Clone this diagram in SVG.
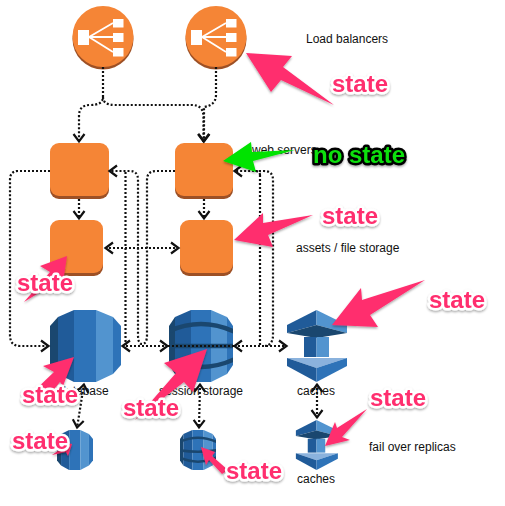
<svg xmlns="http://www.w3.org/2000/svg" xmlns:xlink="http://www.w3.org/1999/xlink" width="505" height="506" viewBox="0 0 505 506">
<style>
.c{fill:none;stroke:#111;stroke-width:2.2;stroke-dasharray:2 2}
.h{marker-end:url(#a)}
.b{marker-start:url(#as);marker-end:url(#a)}
.o{fill:#f58536}
.od{fill:#9d5025}
.w{fill:#fff}
.wl{stroke:#fff;stroke-width:1.8;fill:none}
.l{font:12px "Liberation Sans",Arial,sans-serif;fill:#111}
.s{font:bold 24px "Liberation Sans",Arial,sans-serif;fill:#ff2d6e;stroke:#fff;stroke-width:5;stroke-linejoin:round;paint-order:stroke;filter:url(#sh)}
.n{font:bold 24px "Liberation Sans",Arial,sans-serif;fill:#0be00b;stroke:#000;stroke-width:5;stroke-linejoin:round;paint-order:stroke;filter:url(#sh)}
.p{fill:#ff2d6e;filter:url(#sh)}
.g{fill:#05e305;filter:url(#sh)}
.b1{fill:#1a476f}.b2{fill:#205b99}.b3{fill:#2e73b8}.b4{fill:#5294cf}.b5{fill:#8ab2dd}
.band{fill:none;stroke:#1a476f;stroke-width:4.500}
</style>
<defs>
<filter id="sh" x="-20%" y="-20%" width="140%" height="150%"><feDropShadow dx="0" dy="1.500" stdDeviation="1.200" flood-color="#000" flood-opacity=".35"/></filter>
<marker id="a" markerUnits="userSpaceOnUse" markerWidth="14" markerHeight="16" refX="11" refY="8" orient="auto"><path d="M3 2.500 L10.500 8 L3 13.500" fill="none" stroke="#111" stroke-width="2.200"/></marker>
<marker id="as" markerUnits="userSpaceOnUse" markerWidth="14" markerHeight="16" refX="3" refY="8" orient="auto"><path d="M11 2.500 L3.500 8 L11 13.500" fill="none" stroke="#111" stroke-width="2.200"/></marker>
<clipPath id="rc"><path d="M50 326 L58 317 L74 310 L96 310 L113 317 L121 326 V365 L113 374 L96 382 L74 382 L58 374 L50 365Z"/></clipPath>
<clipPath id="dc"><path d="M169 326 L175 317 L191 310 L211 310 L227 317 L233 326 V365 L227 374 L211 382 L191 382 L175 374 L169 365Z"/></clipPath>
<g id="lbIcon">
<circle cx="0" cy="30" r="30.500" class="od"/>
<circle cx="0" cy="27.500" r="30.500" class="o"/>
<rect x="-25" y="21" width="11" height="15" class="w"/>
<rect x="10" y="10" width="10.500" height="8.500" class="w"/>
<rect x="10" y="24" width="10.500" height="9" class="w"/>
<rect x="10" y="39" width="10.500" height="8.500" class="w"/>
<path d="M-14 28 L10 14 M-14 28 H10 M-14 28 L10 43" class="wl"/>
</g>
<g id="cacheIcon">
<path d="M0 0 L-29.500 15 V23 L0 15Z" class="b2"/>
<path d="M0 0 L30.500 15 V23 L0 15Z" class="b4"/>
<path d="M-29.500 23 L0 15 L30.500 23 L0 28Z" class="b1"/>
<rect x="-12.500" y="27" width="12.500" height="20" class="b2"/>
<rect x="0" y="27" width="12.500" height="20" class="b4"/>
<path d="M-29.500 48 H30.500 L0 58Z" class="b5"/>
<path d="M-29.500 48 V56 L0 72 V58Z" class="b2"/>
<path d="M30.500 48 V56 L0 72 V58Z" class="b3"/>
</g>
</defs>

<g id="lb-left"><use xlink:href="#lbIcon" href="#lbIcon" x="103" y="9"/></g>
<g id="lb-right"><use xlink:href="#lbIcon" href="#lbIcon" x="216" y="9"/></g>

<g id="web-left"><rect x="50" y="146" width="59" height="53" rx="9" class="od"/><rect x="50" y="143" width="59" height="53" rx="9" class="o"/></g>
<g id="web-right"><rect x="175" y="146" width="58" height="53" rx="9" class="od"/><rect x="175" y="143" width="58" height="53" rx="9" class="o"/></g>
<g id="assets-left"><rect x="50" y="223" width="53" height="53" rx="9" class="od"/><rect x="50" y="220" width="53" height="53" rx="9" class="o"/></g>
<g id="assets-right"><rect x="180" y="223" width="53" height="53" rx="9" class="od"/><rect x="180" y="220" width="53" height="53" rx="9" class="o"/></g>

<g id="database">
<g clip-path="url(#rc)">
<rect x="50" y="310" width="8" height="72" class="b1"/>
<rect x="58" y="310" width="16" height="72" class="b2"/>
<rect x="74" y="310" width="22" height="72" class="b3"/>
<rect x="96" y="310" width="17" height="72" class="b4"/>
<rect x="113" y="310" width="8" height="72" class="b3"/>
</g>
</g>
<g id="session-storage">
<g clip-path="url(#dc)">
<rect x="169" y="310" width="6" height="72" class="b1"/>
<rect x="175" y="310" width="16" height="72" class="b2"/>
<rect x="191" y="310" width="20" height="72" class="b3"/>
<rect x="211" y="310" width="16" height="72" class="b4"/>
<rect x="227" y="310" width="6" height="72" class="b3"/>
<path class="band" d="M165 333 Q201 315 237 333 M165 346 H237 M165 358 Q201 376 237 358"/>
</g>
</g>
<g id="db-replica">
<g transform="translate(57 430) scale(.507 .556) translate(-50 -310)"><g clip-path="url(#rc)">
<rect x="50" y="310" width="8" height="72" class="b1"/>
<rect x="58" y="310" width="16" height="72" class="b2"/>
<rect x="74" y="310" width="22" height="72" class="b3"/>
<rect x="96" y="310" width="17" height="72" class="b4"/>
<rect x="113" y="310" width="8" height="72" class="b3"/>
</g></g>
</g>
<g id="session-replica">
<g transform="translate(180 430) scale(.5625 .556) translate(-169 -310)"><g clip-path="url(#dc)">
<rect x="169" y="310" width="6" height="72" class="b1"/>
<rect x="175" y="310" width="16" height="72" class="b2"/>
<rect x="191" y="310" width="20" height="72" class="b3"/>
<rect x="211" y="310" width="16" height="72" class="b4"/>
<rect x="227" y="310" width="6" height="72" class="b3"/>
<path class="band" d="M165 333 Q201 315 237 333 M165 346 Q201 352 237 346 M165 358 Q201 376 237 358"/>
</g></g>
</g>
<g id="cache"><use xlink:href="#cacheIcon" href="#cacheIcon" transform="translate(316.500 310)"/></g>
<g id="cache-replica"><use xlink:href="#cacheIcon" href="#cacheIcon" transform="translate(316.500 420) scale(.7 .694)"/></g>

<text class="l" x="84" y="395" text-anchor="middle">database</text>
<text class="l" x="201" y="395" text-anchor="middle">session storage</text>
<text class="l" x="297" y="395">caches</text>
<text class="l" x="306" y="43">Load balancers</text>
<text class="l" x="252" y="154">web servers</text>
<text class="l" x="296" y="252">assets / file storage</text>
<text class="l" x="369" y="451">fail over replicas</text>
<text class="l" x="297" y="483">caches</text>

<g id="connectors">
<path class="c h" d="M103 67 V97 Q103 105 90 105 Q79 105 79 116 V142"/>
<path class="c h" d="M103 97 Q103 105 115 105 H192 Q203 105 203.500 116 V142"/>
<path class="c h" d="M216 67 V95 Q216 105 204 107 V142"/>
<path class="c h" d="M79 199 V219"/>
<path class="c h" d="M204 199 V219"/>
<path class="c h" d="M50 171 H18 Q10 171 10 180 V335 Q10 346 20 346 H49"/>
<path class="c h" d="M175 171 H156 Q147 171 147 180 V335 Q147 344 142 344 Q138 344 138 335 V180 Q138 171 130 171 H109"/>
<path class="c" d="M125.500 172 V345"/>
<path class="c b" d="M122 346 H168"/>
<path class="c" d="M168 346 H234"/>
<path class="c b" d="M234 346 H287"/>
<path class="c b" d="M105 248 H179"/>
<path class="c h" d="M260 175 Q260 171 255 171 H234"/>
<path class="c" d="M260 175 V345"/>
<path class="c" d="M255 171 H264 Q273 171 273 180 V335 Q273 345 265 346"/>
<path class="c b" d="M84 384 L77 428"/>
<path class="c b" d="M200 384 L199 428"/>
<path class="c b" d="M317 384 V418"/>
</g>

<g id="annotations">
<path class="p" d="M246 53 L292 56 L283 67 L334 105 L281 80 L271 92Z"/>
<path class="g" d="M223 161 L251 142 L252 152 L295 150 L253 161 L256 172Z"/>
<path class="p" d="M234 240 L263 213 L263 223 L313 215 L268 235 L273 247Z"/>
<path class="p" d="M67 256 L40 266 L50 272 L24 302 L60 280 L64 276Z"/>
<path class="p" d="M74 357 L43 366 L54 372 L30 395 L45 400 L60 382 L63 386Z"/>
<path class="p" d="M207 349 L164 363 L176 373 L135 420 L184 382 L193 392Z"/>
<path class="p" d="M72 444 L60 441 L62 448 L52 455 L66 452 L68 456Z"/>
<path class="p" d="M201 447 L215 452 L212 456 L228 470 L222 474 L209 460 L206 465Z"/>
<path class="p" d="M332 325 L361 288 L362 300 L425 280 L370 315 L378 327Z"/>
<path class="p" d="M325 446 L335 422 L337 428 L367 409 L342 437 L350 440Z"/>
<text class="s" x="332" y="92">state</text>
<text class="n" x="313" y="163">no state</text>
<text class="s" x="322" y="224">state</text>
<text class="s" x="17" y="291">state</text>
<text class="s" x="22" y="403">state</text>
<text class="s" x="123" y="416">state</text>
<text class="s" x="12" y="449">state</text>
<text class="s" x="226" y="479">state</text>
<text class="s" x="429" y="308">state</text>
<text class="s" x="370" y="406">state</text>
</g>
</svg>
